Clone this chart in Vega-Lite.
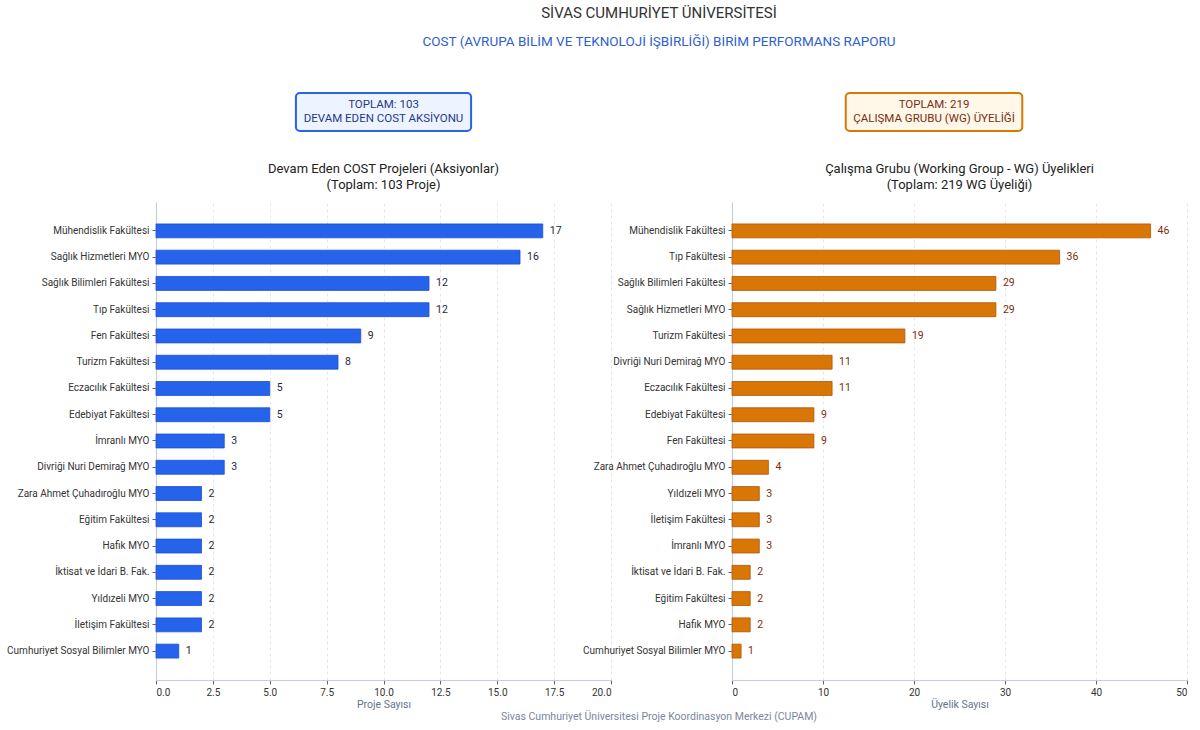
{
  "$schema": "https://vega.github.io/schema/vega-lite/v6.json",
  "background": "white",
  "padding": {"left": 6, "top": 5, "right": 5, "bottom": 5},
  "config": {
    "font": "Roboto",
    "view": {"stroke": null},
    "axis": {
      "labelFont": "Roboto",
      "titleFont": "Roboto",
      "labelFontSize": 10,
      "labelColor": "#333333",
      "titleFontWeight": "normal",
      "titleFontSize": 10.5,
      "titleColor": "#64748b",
      "domainColor": "#c5cfdd",
      "domainWidth": 1.2,
      "tickColor": "#666666",
      "tickSize": 4
    }
  },
  "datasets": {
    "proj": [
      {"unit": "Mühendislik Fakültesi", "count": 17},
      {"unit": "Sağlık Hizmetleri MYO", "count": 16},
      {"unit": "Sağlık Bilimleri Fakültesi", "count": 12},
      {"unit": "Tıp Fakültesi", "count": 12},
      {"unit": "Fen Fakültesi", "count": 9},
      {"unit": "Turizm Fakültesi", "count": 8},
      {"unit": "Eczacılık Fakültesi", "count": 5},
      {"unit": "Edebiyat Fakültesi", "count": 5},
      {"unit": "İmranlı MYO", "count": 3},
      {"unit": "Divriği Nuri Demirağ MYO", "count": 3},
      {"unit": "Zara Ahmet Çuhadıroğlu MYO", "count": 2},
      {"unit": "Eğitim Fakültesi", "count": 2},
      {"unit": "Hafik MYO", "count": 2},
      {"unit": "İktisat ve İdari B. Fak.", "count": 2},
      {"unit": "Yıldızeli MYO", "count": 2},
      {"unit": "İletişim Fakültesi", "count": 2},
      {"unit": "Cumhuriyet Sosyal Bilimler MYO", "count": 1}
    ],
    "wg": [
      {"unit": "Mühendislik Fakültesi", "count": 46},
      {"unit": "Tıp Fakültesi", "count": 36},
      {"unit": "Sağlık Bilimleri Fakültesi", "count": 29},
      {"unit": "Sağlık Hizmetleri MYO", "count": 29},
      {"unit": "Turizm Fakültesi", "count": 19},
      {"unit": "Divriği Nuri Demirağ MYO", "count": 11},
      {"unit": "Eczacılık Fakültesi", "count": 11},
      {"unit": "Edebiyat Fakültesi", "count": 9},
      {"unit": "Fen Fakültesi", "count": 9},
      {"unit": "Zara Ahmet Çuhadıroğlu MYO", "count": 4},
      {"unit": "Yıldızeli MYO", "count": 3},
      {"unit": "İletişim Fakültesi", "count": 3},
      {"unit": "İmranlı MYO", "count": 3},
      {"unit": "İktisat ve İdari B. Fak.", "count": 2},
      {"unit": "Eğitim Fakültesi", "count": 2},
      {"unit": "Hafik MYO", "count": 2},
      {"unit": "Cumhuriyet Sosyal Bilimler MYO", "count": 1}
    ],
    "boxes": [
      {"panel": "proj", "label": "TOPLAM: 103\nDEVAM EDEN COST AKSİYONU"},
      {"panel": "wg", "label": "TOPLAM: 219\nÇALIŞMA GRUBU (WG) ÜYELİĞİ"}
    ]
  },
  "title": {
    "text": "SİVAS CUMHURİYET ÜNİVERSİTESİ",
    "subtitle": "COST (AVRUPA BİLİM VE TEKNOLOJİ İŞBİRLİĞİ) BİRİM PERFORMANS RAPORU",
    "font": "Roboto",
    "subtitleFont": "Roboto",
    "fontSize": 15,
    "fontWeight": "normal",
    "color": "#333333",
    "subtitleColor": "#2f5fd0",
    "subtitleFontSize": 13.5,
    "subtitlePadding": 14,
    "anchor": "middle",
    "frame": "group",
    "dx": 503,
    "offset": 44
  },
  "vconcat": [
    {
      "title": {
        "text": "Sivas Cumhuriyet Üniversitesi Proje Koordinasyon Merkezi (CUPAM)",
        "orient": "bottom",
        "anchor": "middle",
        "frame": "group",
        "dx": 503,
        "fontSize": 10.5,
        "fontWeight": "normal",
        "color": "#7b86a0",
        "offset": 2
      },
      "columns": 2,
      "bounds": "flush",
      "spacing": {"row": 71, "column": 121},
      "concat": [
        {
          "width": 455,
          "height": 38,
          "data": {"name": "boxes"},
          "transform": [{"filter": "datum.panel === 'proj'"}],
          "layer": [
            {
              "mark": {"type": "rect", "fill": "#eef4ff", "stroke": "#2563eb", "strokeWidth": 2, "cornerRadius": 4},
              "encoding": {
                "x": {"datum": 6.15, "type": "quantitative", "scale": {"domain": [0, 20]}, "axis": null},
                "x2": {"datum": 13.85}
              }
            },
            {
              "mark": {"type": "text", "lineBreak": "\n", "fontSize": 11.5, "lineHeight": 13.5, "dy": -7, "color": "#1e3a8a"},
              "encoding": {
                "x": {"datum": 10, "type": "quantitative"},
                "text": {"field": "label"}
              }
            }
          ]
        },
        {
          "width": 455,
          "height": 38,
          "data": {"name": "boxes"},
          "transform": [{"filter": "datum.panel === 'wg'"}],
          "layer": [
            {
              "mark": {"type": "rect", "fill": "#fff7e8", "stroke": "#d97706", "strokeWidth": 2, "cornerRadius": 4},
              "encoding": {
                "x": {"datum": 12.5, "type": "quantitative", "scale": {"domain": [0, 50]}, "axis": null},
                "x2": {"datum": 31.9}
              }
            },
            {
              "mark": {"type": "text", "lineBreak": "\n", "fontSize": 11.5, "lineHeight": 13.5, "dy": -7, "color": "#7c2d12"},
              "encoding": {
                "x": {"datum": 22.2, "type": "quantitative"},
                "text": {"field": "label"}
              }
            }
          ]
        },
        {
          "width": 455,
          "height": 478,
          "title": {
            "text": ["Devam Eden COST Projeleri (Aksiyonlar)", "(Toplam: 103 Proje)"],
            "frame": "group",
            "anchor": "middle",
            "fontSize": 13,
            "fontWeight": "normal",
            "color": "#222222",
            "lineHeight": 16,
            "offset": 10
          },
          "data": {"name": "proj"},
          "encoding": {
            "y": {
              "field": "unit",
              "type": "nominal",
              "sort": null,
              "scale": {"paddingInner": 0.47, "paddingOuter": 0.835},
              "axis": {"title": null, "labelPadding": 3}
            },
            "x": {
              "field": "count",
              "type": "quantitative",
              "scale": {"domain": [0, 20]},
              "axis": {
                "title": "Proje Sayısı",
                "values": [0, 2.5, 5, 7.5, 10, 12.5, 15, 17.5, 20],
                "format": ".1f",
                "grid": true,
                "gridColor": "#e3e6ec",
                "gridDash": [3, 3],
                "titlePadding": 2,
                "labelPadding": 3
              }
            }
          },
          "layer": [
            {"mark": {"type": "bar", "color": "#2563eb", "stroke": "#1d4ed8", "strokeWidth": 0.8}},
            {"mark": {"type": "text", "align": "left", "dx": 7, "fontSize": 10.5, "color": "#1e293b"}, "encoding": {"text": {"field": "count", "type": "quantitative"}}}
          ]
        },
        {
          "width": 455,
          "height": 478,
          "title": {
            "text": ["Çalışma Grubu (Working Group - WG) Üyelikleri", "(Toplam: 219 WG Üyeliği)"],
            "frame": "group",
            "anchor": "middle",
            "fontSize": 13,
            "fontWeight": "normal",
            "color": "#222222",
            "lineHeight": 16,
            "offset": 10
          },
          "data": {"name": "wg"},
          "encoding": {
            "y": {
              "field": "unit",
              "type": "nominal",
              "sort": null,
              "scale": {"paddingInner": 0.47, "paddingOuter": 0.835},
              "axis": {"title": null, "labelPadding": 3}
            },
            "x": {
              "field": "count",
              "type": "quantitative",
              "scale": {"domain": [0, 50]},
              "axis": {
                "title": "Üyelik Sayısı",
                "values": [0, 10, 20, 30, 40, 50],
                "format": "d",
                "grid": true,
                "gridColor": "#e3e6ec",
                "gridDash": [3, 3],
                "titlePadding": 2,
                "labelPadding": 3
              }
            }
          },
          "layer": [
            {"mark": {"type": "bar", "color": "#d97706", "stroke": "#b45309", "strokeWidth": 0.8}},
            {"mark": {"type": "text", "align": "left", "dx": 7, "fontSize": 10.5, "color": "#7c2d12"}, "encoding": {"text": {"field": "count", "type": "quantitative"}}}
          ]
        }
      ]
    }
  ]
}
